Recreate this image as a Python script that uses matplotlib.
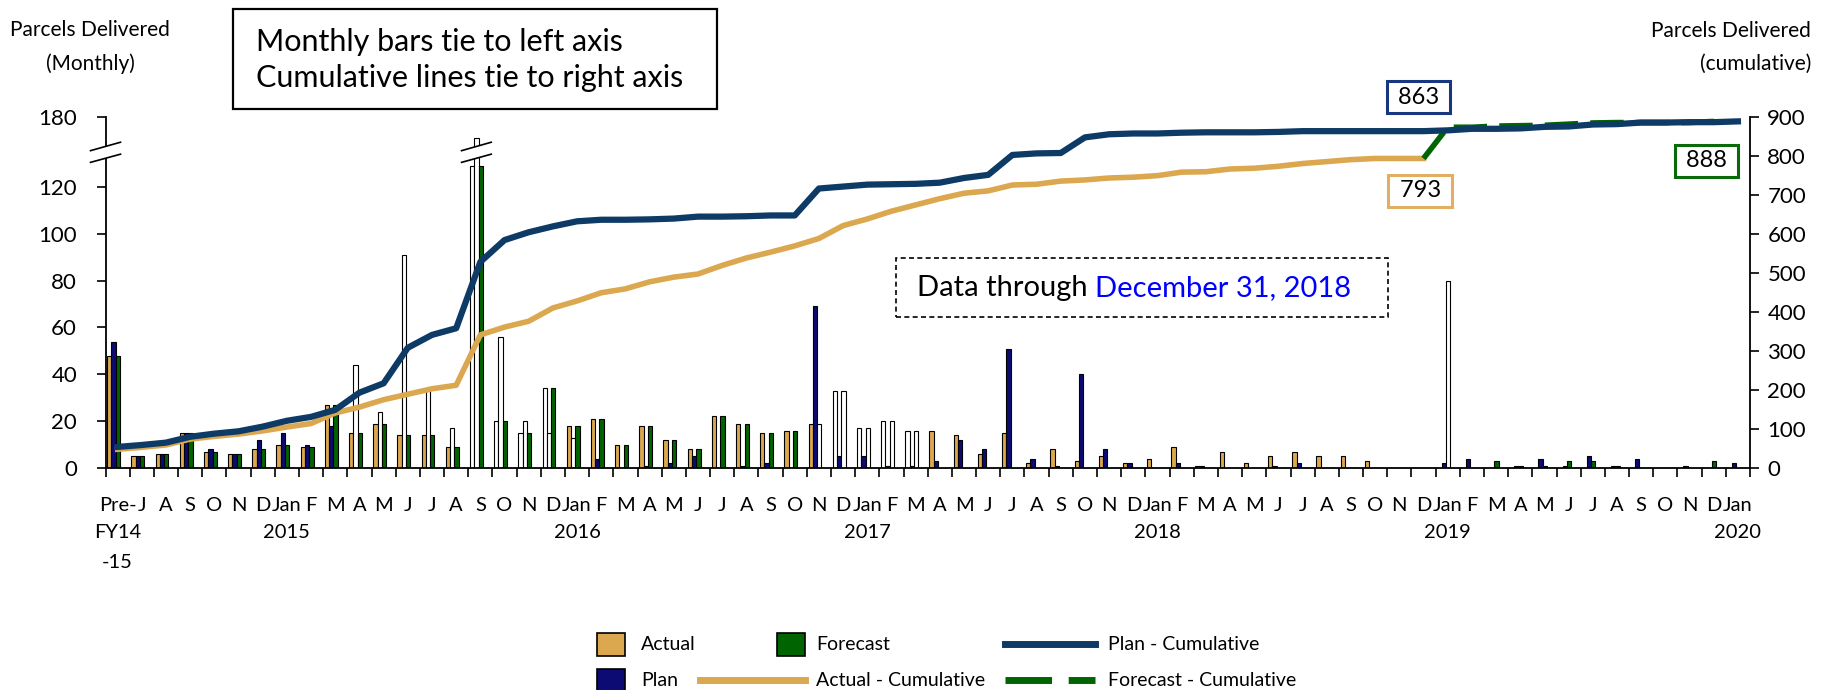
import numpy as np
import matplotlib
matplotlib.use('Agg')
import matplotlib.pyplot as plt
import matplotlib.patches as mpatches
from matplotlib.lines import Line2D
from matplotlib.text import Annotation

plt.rcParams['font.family'] = ['Lato', 'DejaVu Sans']

# ---- data ----
months = ['Jan', 'F', 'M', 'A', 'M', 'J', 'J', 'A', 'S', 'O', 'N', 'D']
years = [2015, 2016, 2017, 2018, 2019, 2020]

labels = ['Pre-'] + months[6:]
for yr in years[:-1]:
    labels += ['Jan'] + months[1:]
labels += ['Jan']
first_label_extra = ['FY14', '-15']

# monthly parcels (left axis)
actual = [48, 5, 6, 15, 7, 6, 8, 10, 9, 27, 15, 19, 14, 14, 9, 129, 20, 15, 34, 18,
          21, 10, 18, 12, 8, 22, 19, 15, 16, 19, 33, 17, 20, 16, 16, 14, 6, 15, 2, 8,
          3, 5, 2, 4, 9, 1, 7, 2, 5, 7, 5, 5, 3, 0, 0] + [None] * 13
plan = [54, 5, 6, 15, 8, 6, 12, 15, 10, 18, 44, 24, 91, 33, 17, 141, 56, 20, 15, 13,
        4, 0, 1, 2, 5, 0, 1, 2, 0, 69, 5, 5, 1, 1, 3, 12, 8, 51, 4, 1,
        40, 8, 2, 0, 2, 1, 0, 0, 1, 2, 0, 0, 0, 0, 0, 2, 4, 0, 1, 4,
        1, 5, 1, 4, 0, 1, 0, 2]
forecast = [48, 5, 6, 15, 7, 6, 8, 10, 9, 27, 15, 19, 14, 14, 9, 129, 20, 15, 34, 18,
            21, 10, 18, 12, 8, 22, 19, 15, 16, 19, 33, 17, 20, 16] + [None] * 21 + \
           [80, None, 3, 1, 1, 3, 3, 1, 0, 0, 0, 3, None]

# months whose bars are drawn hollow (white)
hollow_actual = [15, 16, 17, 18, 30, 31, 32, 33]
hollow_plan = [10, 11, 12, 13, 14, 15, 16, 17, 18, 19]
hollow_forecast = [29, 30, 31, 32, 33, 55]

# cumulative parcels (right axis)
actual_cum = [48, 53, 59, 74, 81, 87, 95, 105, 114, 141, 156, 175, 189, 203, 212, 341,
              361, 376, 410, 428, 449, 459, 477, 489, 497, 519, 538, 553, 569, 588,
              621, 638, 658, 674, 690, 704, 710, 725, 727, 735, 738, 743, 745, 749,
              758, 759, 766, 768, 773, 780, 785, 790, 793, 793, 793]
plan_cum = [54, 59, 65, 80, 88, 94, 106, 121, 131, 149, 193, 217, 308, 341, 358, 528,
            584, 604, 619, 632, 636, 636, 637, 639, 644, 644, 645, 647, 647, 716,
            721, 726, 727, 728, 731, 743, 751, 802, 806, 807, 847, 855, 857, 857,
            859, 860, 860, 860, 861, 863, 863, 863, 863, 863, 863, 865, 869, 869,
            870, 874, 875, 880, 881, 885, 885, 886, 886, 888]
forecast_start = 54
forecast_cum = [793, 873, 873, 876, 877, 878, 881, 884, 885, 885, 885, 885, 888]

gold = '#DBA84F'
navy = '#0B0B73'
navy_line = '#0E3A66'
green = '#006400'

W, H = 1844, 690
def fx(p): return p / W
def fy(p): return 1 - p / H

fig = plt.figure(figsize=(W / 100, H / 100), dpi=100)
ax = fig.add_axes([fx(105.5), fy(468), 1644.5 / W, 351.3 / H])
ax2 = ax.twinx()

x = np.arange(len(labels))
bw = 0.178
series = [(actual, gold, hollow_actual, -0.341),
          (plan, navy, hollow_plan, -0.163),
          (forecast, green, hollow_forecast, 0.015)]
for vals, col, hollow, off in series:
    idx = [i for i, v in enumerate(vals) if v is not None]
    ax.bar([i + off for i in idx], [vals[i] for i in idx], bw,
           color=['white' if i in hollow else col for i in idx],
           edgecolor='black', linewidth=0.8, zorder=2)

# cumulative lines
ax2.plot(x[:len(actual_cum)], actual_cum, color=gold, lw=4.0, solid_joinstyle='round', zorder=3)
ax2.plot(x[forecast_start:forecast_start + len(forecast_cum)], forecast_cum, color=green,
         lw=4.0, dashes=(6, 2.2), zorder=3)
ax2.plot(x, plan_cum, color=navy_line, lw=4.5, solid_joinstyle='round', zorder=4)

# axes
ax.set_xlim(-0.5, len(labels) - 0.5)
ax.set_ylim(0, 150)
ax.set_yticks([0, 20, 40, 60, 80, 100, 120, 150])
ax.set_yticklabels(['0', '20', '40', '60', '80', '100', '120', '180'])
ax2.set_ylim(0, 900)
ax2.set_yticks(range(0, 901, 100))
ax.set_xticks(x)
ax.set_xticklabels(labels, fontsize=14.5)
ax.set_xticks(np.arange(-0.5, len(labels), 1), minor=True)
ax.tick_params(axis='x', which='major', length=0, pad=21)
ax.tick_params(axis='x', which='minor', length=6.5, width=1.2, direction='out')
ax.tick_params(axis='y', length=6.5, width=1.2, direction='out', labelsize=16, pad=14)
ax2.tick_params(axis='y', length=6.5, width=1.2, direction='out', labelsize=16, pad=6)
for s in ['top', 'right']:
    ax.spines[s].set_visible(False)
for s in ['top', 'left', 'bottom']:
    ax2.spines[s].set_visible(False)
for a in (ax, ax2):
    for s in a.spines.values():
        s.set_linewidth(1.3)

# second and third label rows: years under each Jan, FY under Pre-
jan_pos = [i for i, l in enumerate(labels) if l == 'Jan']
for i, yr in zip(jan_pos, years):
    ax.annotate(str(yr), xy=(i, 0), xycoords=('data', 'axes fraction'), xytext=(0, -46.8),
                textcoords='offset points', ha='center', va='center', fontsize=14.5,
                annotation_clip=False)
for k, s in enumerate(first_label_extra):
    ax.annotate(s, xy=(0, 0), xycoords=('data', 'axes fraction'), xytext=(0, -46.8 - 21 * k),
                textcoords='offset points', ha='center', va='center', fontsize=14.5,
                annotation_clip=False)

# axis breaks
def draw_break(xc, hw):
    lo = (130.5, 134.0)
    hi = (135.5, 139.1)
    ax.add_patch(mpatches.Polygon([(xc - hw, lo[0]), (xc + hw, lo[1]), (xc + hw, hi[1]), (xc - hw, hi[0])],
                                  closed=True, fc='white', ec='none', zorder=5, clip_on=False))
    for y0, y1 in (lo, hi):
        ax.plot([xc - hw, xc + hw], [y0, y1], color='black', lw=1.2, zorder=6, clip_on=False)

draw_break(-0.5, 0.62)
draw_break(int(np.argmax(plan)) - 0.163, 0.614)

# end-value labels
lab_font = 17
box = dict(boxstyle='square,pad=0.22', fc='white', lw=2.2)
ax2.annotate(' %d ' % plan_cum[54], xy=(54, plan_cum[54]), xytext=(-3.6, 24.5), textcoords='offset points',
             ha='center', va='center', fontsize=lab_font, annotation_clip=False,
             bbox=dict(box, ec='#17377F'))
ax2.annotate(' %d ' % actual_cum[-1], xy=(54, actual_cum[-1]), xytext=(-2.4, -23.4), textcoords='offset points',
             ha='center', va='center', fontsize=lab_font, annotation_clip=False,
             bbox=dict(box, ec='#E0B060'))
ax2.annotate(' %d ' % forecast_cum[-1], xy=(66, forecast_cum[-1]), xytext=(-5.4, -28.5), textcoords='offset points',
             ha='center', va='center', fontsize=lab_font, annotation_clip=False,
             bbox=dict(box, ec='#0A6A0A'))

# axis titles
fig.text(fx(90), fy(47), 'Parcels Delivered\n(Monthly)', ha='center', va='center',
         fontsize=15, linespacing=1.8)
fig.text(fx(1811), fy(47), 'Parcels Delivered\n(cumulative)', ha='right', va='center',
         multialignment='right', fontsize=15, linespacing=1.8)

# note boxes
fig.add_artist(mpatches.Rectangle((fx(233), fy(109)), 484 / W, 100 / H, transform=fig.transFigure,
                                  fc='white', ec='black', lw=1.6))
fig.text(fx(256), fy(60), 'Monthly bars tie to left axis\nCumulative lines tie to right axis',
         ha='left', va='center', fontsize=22, linespacing=1.36)

fig.add_artist(mpatches.Rectangle((fx(896), fy(317)), 492 / W, 59 / H, transform=fig.transFigure,
                                  fc='white', ec='black', lw=1.2, ls=(0, (3, 2))))
t1 = fig.text(fx(917), fy(288), 'Data through ', ha='left', va='center', fontsize=21)
fig.add_artist(Annotation('December 31, 2018', xy=(1, 0), xycoords=t1,
                          va='bottom', ha='left', fontsize=21, color='#0000FF'))

# legend
leg_font = 14
rows = [644, 680]
def leg_patch(x0, yc, col):
    fig.add_artist(mpatches.Rectangle((fx(x0), fy(yc + 11.5)), 28 / W, 23 / H, transform=fig.transFigure,
                                      fc=col, ec='black', lw=1.2))
def leg_line(x0, x1, yc, col, dashed=False):
    ln = Line2D([fx(x0), fx(x1)], [fy(yc), fy(yc)], transform=fig.transFigure, color=col, lw=5)
    if dashed:
        ln.set_dashes((6.7, 2.4))
    fig.add_artist(ln)
def leg_text(x0, yc, s):
    fig.text(fx(x0), fy(yc), s, ha='left', va='center', fontsize=leg_font)

leg_patch(597, rows[0], gold); leg_text(641, rows[0], 'Actual')
leg_patch(597, rows[1], navy); leg_text(641, rows[1], 'Plan')
leg_patch(777, rows[0], green); leg_text(816, rows[0], 'Forecast')
leg_line(700, 805, rows[1], gold); leg_text(816, rows[1], 'Actual - Cumulative')
leg_line(1005, 1095, rows[0], navy_line); leg_text(1108, rows[0], 'Plan - Cumulative')
leg_line(1005, 1095, rows[1], green, dashed=True); leg_text(1108, rows[1], 'Forecast - Cumulative')

fig.savefig('out.png', dpi=100)
